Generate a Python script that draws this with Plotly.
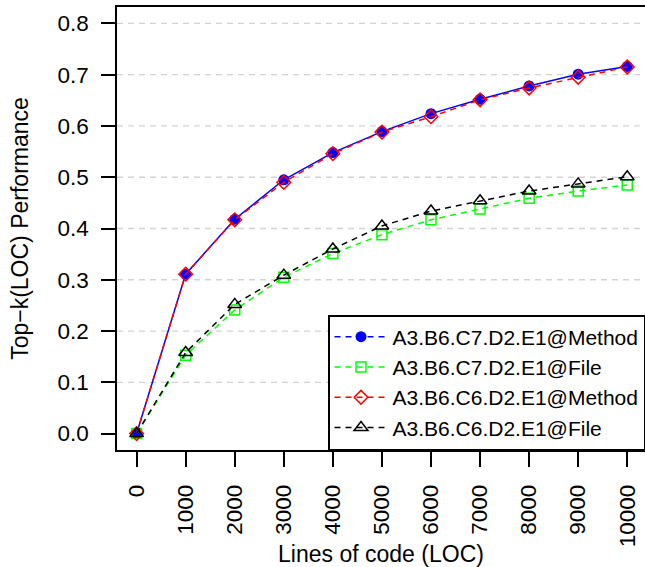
import plotly.graph_objects as go

# ---------------- data ----------------
loc = [0, 1000, 2000, 3000, 4000, 5000, 6000, 7000, 8000, 9000, 10000]
c7_method = [0.0, 0.311, 0.418, 0.495, 0.548, 0.589, 0.624, 0.652, 0.678, 0.701, 0.716]
c7_file = [0.0, 0.153, 0.241, 0.305, 0.351, 0.388, 0.417, 0.438, 0.459, 0.473, 0.485]
c6_method = [0.0, 0.311, 0.417, 0.490, 0.546, 0.588, 0.618, 0.651, 0.674, 0.695, 0.715]
c6_file = [0.0, 0.158, 0.252, 0.309, 0.360, 0.405, 0.434, 0.454, 0.473, 0.487, 0.501]

names = [
    "A3.B6.C7.D2.E1@Method",
    "A3.B6.C7.D2.E1@File",
    "A3.B6.C6.D2.E1@Method",
    "A3.B6.C6.D2.E1@File",
]
y_ticks = [0.0, 0.1, 0.2, 0.3, 0.4, 0.5, 0.6, 0.7, 0.8]
grid_levels = [0.1, 0.2, 0.3, 0.4, 0.5, 0.6, 0.7, 0.8]
x_ticks = loc

FONT = "Liberation Sans, Arial, Helvetica, sans-serif"
FS_TICK = 22.5
FS_TITLE = 23
FS_LEG = 21
DASH = "6px,5px"

fig = go.Figure()

# series 1: blue solid line in plot, dashed in legend
fig.add_trace(go.Scatter(
    x=loc, y=c7_method, mode="lines+markers", name=names[0], showlegend=False,
    line=dict(color="#0000FF", width=1.5),
    marker=dict(symbol="circle", size=11, color="#0000FF"),
))
fig.add_trace(go.Scatter(
    x=[None], y=[None], mode="lines+markers", name=names[0], legendrank=1,
    line=dict(color="#0000FF", width=1.5, dash=DASH),
    marker=dict(symbol="circle", size=11, color="#0000FF"),
))
fig.add_trace(go.Scatter(
    x=loc, y=c7_file, mode="lines+markers", name=names[1], legendrank=2,
    line=dict(color="#00FF00", width=1.5, dash=DASH),
    marker=dict(symbol="square-open", size=10, color="#00FF00", line=dict(width=1.5)),
))
fig.add_trace(go.Scatter(
    x=loc, y=c6_method, mode="lines+markers", name=names[2], legendrank=3,
    line=dict(color="#FF0000", width=1.5, dash=DASH),
    marker=dict(symbol="diamond-open", size=10.5, color="#FF0000", line=dict(width=1.5)),
))
fig.add_trace(go.Scatter(
    x=loc, y=c6_file, mode="lines+markers", name=names[3], legendrank=4,
    line=dict(color="#000000", width=1.5, dash=DASH),
    marker=dict(symbol="triangle-up-open", size=12, color="#000000", line=dict(width=1.5)),
))

for lv in grid_levels:
    fig.add_shape(type="line", xref="paper", x0=0, x1=1, yref="y", y0=lv, y1=lv,
                  layer="below", line=dict(color="#D3D3D3", width=1.3, dash=DASH))

fig.update_layout(
    width=645, height=567,
    margin=dict(l=117, r=0, t=7, b=115, pad=0),
    plot_bgcolor="white", paper_bgcolor="white",
    font=dict(family=FONT, size=FS_TICK, color="black"),
    showlegend=True,
    legend=dict(
        x=1, y=0, xanchor="right", yanchor="bottom",
        bgcolor="white", bordercolor="black", borderwidth=1.5,
        font=dict(family=FONT, size=FS_LEG, color="black"),
        itemwidth=53, tracegroupgap=0,
    ),
    xaxis=dict(
        range=[-400, 10362], tickmode="array", tickvals=x_ticks,
        ticktext=[str(v) for v in x_ticks], tickangle=-90,
        ticks="outside", ticklen=15, tickwidth=1.5, tickcolor="black",
        showline=True, linecolor="black", linewidth=1.5, mirror=True,
        showgrid=False, zeroline=False, ticklabelstandoff=9,
        tickfont=dict(family=FONT, size=FS_TICK),
        title=dict(text="Lines of code (LOC)", standoff=4,
                   font=dict(family=FONT, size=FS_TITLE)),
    ),
    yaxis=dict(
        range=[-0.032, 0.832], tickmode="array", tickvals=y_ticks,
        ticktext=[f"{v:.1f}" for v in y_ticks],
        ticks="outside", ticklen=14, tickwidth=1.5, tickcolor="black",
        showline=True, linecolor="black", linewidth=1.5, mirror=False,
        showgrid=False, zeroline=False, ticklabelstandoff=8,
        tickfont=dict(family=FONT, size=FS_TICK),
        title=dict(text="Top\u2212k(LOC) Performance", standoff=22,
                   font=dict(family=FONT, size=FS_TITLE)),
    ),
)

fig.write_html(
    "out.html",
    config={"responsive": False, "displayModeBar": False},
    post_script="document.body.style.margin='0px';document.body.style.overflow='hidden';",
)
